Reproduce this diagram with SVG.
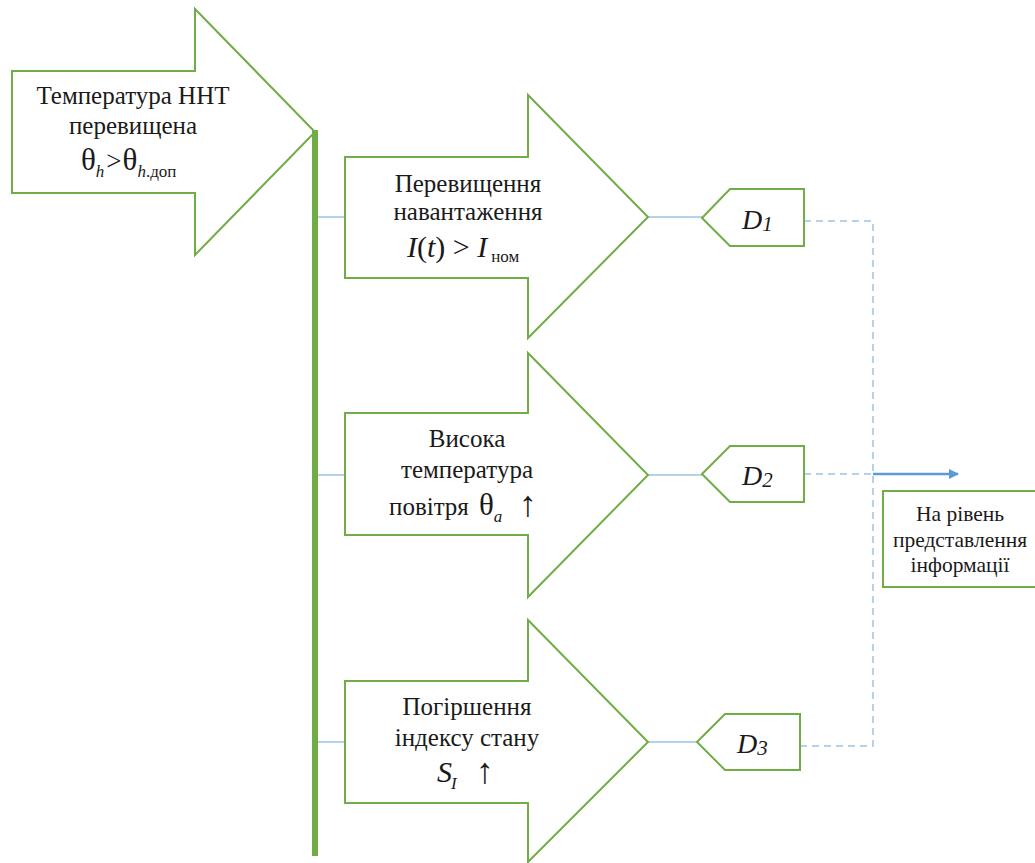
<svg xmlns="http://www.w3.org/2000/svg" width="1035" height="863" viewBox="0 0 1035 863" font-family="'Liberation Serif','Times New Roman',Tinos,'Noto Serif','DejaVu Serif',FreeSerif,serif">
<defs>
<style>
.sh{fill:#fff;stroke:#70AD47;stroke-width:2}
.t{font-family:'Liberation Serif','Times New Roman',Tinos,'Noto Serif','DejaVu Serif',FreeSerif,serif;font-size:25px;fill:#1a1a1a;text-anchor:middle}
.m{font-family:'Liberation Serif','Times New Roman',Tinos,'Noto Serif','DejaVu Serif',FreeSerif,serif;fill:#1a1a1a}
.i{font-style:italic}
.ln{stroke:#9DC3E6;stroke-width:1.5;fill:none}
.ds{stroke:#9DC3E6;stroke-width:1.5;fill:none;stroke-dasharray:7 5}
</style>
<marker id="ah" viewBox="0 0 10 10" refX="9" refY="5" markerWidth="4" markerHeight="4" orient="auto" markerUnits="strokeWidth">
<path d="M0,0 L10,5 L0,10 z" fill="#5B9BD5"/>
</marker>
</defs>
<rect width="1035" height="863" fill="#fff"/>
<g id="connectors">
<line class="ln" x1="318" y1="217" x2="345" y2="217"/>
<line class="ln" x1="318" y1="475" x2="345" y2="475"/>
<line class="ln" x1="318" y1="742" x2="345" y2="742"/>
<line class="ln" x1="648" y1="217" x2="702" y2="217"/>
<line class="ln" x1="648" y1="475" x2="702" y2="475"/>
<line class="ln" x1="648" y1="742" x2="697" y2="742"/>
<polyline class="ds" points="804,221 873,221 873,746 800,746"/>
<line class="ds" x1="804" y1="474" x2="873" y2="474"/>
<line x1="873" y1="474" x2="958" y2="474" stroke="#5B9BD5" stroke-width="2.5" marker-end="url(#ah)"/>
</g>
<g id="n-main">
<polygon class="sh" points="12,71 195,71 195,9 315,132 195,255 195,193 12,193"/>
<text class="t" x="133" y="104">Температура ННТ</text>
<text class="t" x="133" y="134">перевищена</text>
<text class="m" font-size="31"><tspan x="81" y="170">θ</tspan><tspan class="i" font-size="17" dx="0" y="177">h</tspan><tspan font-size="27" dx="2" y="170">&gt;</tspan><tspan dx="1">θ</tspan><tspan class="i" font-size="17" y="177">h</tspan><tspan font-size="17">.доп</tspan></text>
</g>
<g id="bar">
<line x1="315" y1="130" x2="315" y2="856" stroke="#70AD47" stroke-width="6"/>
</g>
<g id="n-load">
<polygon class="sh" points="345,157 528,157 528,95 648,217 528,338 528,278 345,278"/>
<text class="t" x="468" y="192">Перевищення</text>
<text class="t" x="468" y="220">навантаження</text>
<text class="m" font-size="30" x="407" y="257"><tspan class="i">I</tspan>(<tspan class="i">t</tspan>) &gt; <tspan class="i">I</tspan><tspan font-size="17" dx="4" dy="5">ном</tspan></text>
</g>
<g id="n-air">
<polygon class="sh" points="345,413 528,413 528,353 648,475 528,597 528,535 345,535"/>
<text class="t" x="467" y="447">Висока</text>
<text class="t" x="467" y="478">температура</text>
<text class="m" font-size="25"><tspan x="389" y="515">повітря</tspan><tspan font-size="31" x="479" y="515">θ</tspan><tspan class="i" font-size="17" y="522">a</tspan><tspan font-size="36" x="519" y="516">↑</tspan></text>
</g>
<g id="n-index">
<polygon class="sh" points="345,681 528,681 528,620 648,742 528,862 528,803 345,803"/>
<text class="t" x="467" y="715">Погіршення</text>
<text class="t" x="467" y="746">індексу стану</text>
<text class="m" font-size="30"><tspan class="i" x="437" y="782">S</tspan><tspan class="i" font-size="17" dx="-1" y="789">I</tspan><tspan font-size="36" x="476" y="783">↑</tspan></text>
</g>
<g id="d1">
<polygon class="sh" points="702,218 730,189 804,189 804,246 730,246"/>
<text class="m i" x="742" y="229" font-size="28">D<tspan font-size="21" dy="2">1</tspan></text>
</g>
<g id="d2">
<polygon class="sh" points="702,474 730,446 804,446 804,502 730,502"/>
<text class="m i" x="742" y="485" font-size="28">D<tspan font-size="21" dy="2">2</tspan></text>
</g>
<g id="d3">
<polygon class="sh" points="697,742 725,714 800,714 800,770 725,770"/>
<text class="m i" x="737" y="753" font-size="28">D<tspan font-size="21" dy="2">3</tspan></text>
</g>
<g id="n-out">
<rect class="sh" x="883" y="491" width="160" height="96"/>
<text class="t" x="960" y="521" style="font-size:21.5px">На рівень</text>
<text class="t" x="960" y="547" style="font-size:21.5px">представлення</text>
<text class="t" x="960" y="572" style="font-size:21.5px">інформації</text>
</g>
</svg>
